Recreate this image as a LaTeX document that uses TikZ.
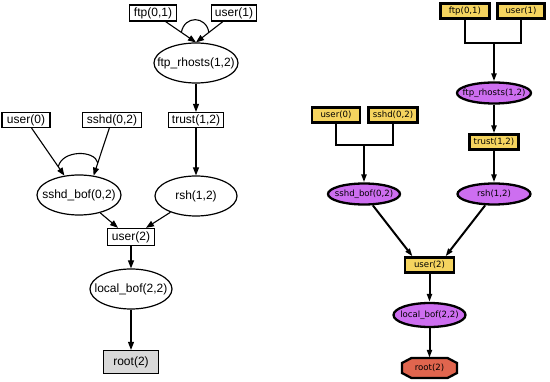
\documentclass[tikz,border=0pt]{standalone}
\usepackage{fontspec}
\setmainfont{Liberation Sans}
\newfontfamily\verd{DejaVu Sans}
\usetikzlibrary{arrows.meta,calc,shapes.geometric}
\definecolor{ryellow}{RGB}{245,212,95}
\definecolor{rpurple}{RGB}{205,110,240}
\definecolor{rred}{RGB}{224,101,78}
\definecolor{lgray}{RGB}{217,217,217}
\newcommand{\zw}[1]{\makebox[0pt]{#1}}
\begin{document}
\begin{tikzpicture}[x=1pt,y=1pt,
  Lbox/.style={draw,line width=1.3pt,inner sep=0pt,minimum height=16pt,font=\fontsize{12}{12}\selectfont},
  Lell/.style={draw,ellipse,line width=1.2pt,inner sep=0pt,minimum width=84pt,minimum height=40pt,font=\fontsize{12}{12}\selectfont},
  Lline/.style={line width=1.1pt},
  Larr/.style={line width=1.1pt,-{Triangle[length=8pt,width=6pt]}},
  Rbox/.style={draw,fill=ryellow,line width=2.3pt,inner sep=0pt,minimum height=15pt,minimum width=48pt,font=\verd\fontsize{8.6}{8.6}\selectfont},
  Rell/.style={draw,fill=rpurple,ellipse,line width=2.3pt,inner sep=0pt,minimum width=73pt,minimum height=21pt,font=\verd\fontsize{8.6}{8.6}\selectfont},
  Rline/.style={line width=2pt},
  Rarr/.style={line width=2pt,-{Triangle[length=8pt,width=5pt]}},
  Rtext/.style={inner sep=0pt,minimum width=55pt,minimum height=20pt,font=\verd\fontsize{8.6}{8.6}\selectfont}
]
\useasboundingbox (0,0) rectangle (550,-382);

% ---------------- left diagram ----------------
\node[Lbox,minimum width=47pt] (ftp01L) at (153,-13) {ftp(0,1)};
\node[Lbox,minimum width=45pt] (user1L) at (234,-13) {user(1)};
\node[Lell] (ftprhL) at (196,-63) {\zw{ftp\_rhosts(1,2)}};
\node[Lbox,minimum width=55pt,minimum height=15pt] (trustL) at (196,-120) {trust(1,2)};
\node[Lbox,minimum width=48pt,minimum height=15pt] (user0L) at (26,-120) {user(0)};
\node[Lbox,minimum width=59pt,minimum height=15pt] (sshdL) at (112,-120) {sshd(0,2)};
\node[Lell] (sshdbofL) at (79,-195) {\zw{sshd\_bof(0,2)}};
\node[Lell,minimum width=82pt] (rshL) at (196,-196) {\zw{rsh(1,2)}};
\node[Lbox,minimum width=47pt,minimum height=17pt] (user2L) at (131,-237) {user(2)};
\node[Lell,minimum width=82pt] (localL) at (131,-289) {\zw{local\_bof(2,2)}};
\node[Lbox,fill=lgray,minimum width=55pt,minimum height=23pt] (rootL) at (131,-362) {root(2)};

\draw[Larr] (ftp01L) -- (ftprhL.north);
\draw[Larr] (user1L) -- (ftprhL.north);
\coordinate (a1) at ($(ftp01L)!0.66!(ftprhL.north)$);
\coordinate (a2) at ($(user1L)!0.66!(ftprhL.north)$);
\draw[Lline] (a1) .. controls +(3,17) and +(-3,17) .. (a2);

\draw[Larr] (ftprhL) -- (trustL);
\draw[Larr] (trustL) -- (rshL);

\draw[Larr] (user0L) -- (sshdbofL.127);
\draw[Larr] (sshdL) -- (sshdbofL.53);
\coordinate (b1) at ($(user0L)!0.84!(sshdbofL.127)$);
\coordinate (b2) at ($(sshdL)!0.77!(sshdbofL.53)$);
\draw[Lline] (b1) .. controls +(4,17) and +(-3,13) .. (b2);

\draw[Larr] (sshdbofL) -- ($(user2L.north)+(-13,0)$);
\draw[Larr] (rshL) -- ($(user2L.north)+(15,0)$);
\draw[Larr] (user2L) -- (localL);
\draw[Larr] (localL) -- (rootL);

% ---------------- right diagram ----------------
\node[Rbox,minimum width=49pt] (ftp01R) at (465,-11) {ftp(0,1)};
\node[Rbox,minimum width=47pt] (user1R) at (521,-11) {user(1)};
\node[Rell,minimum width=74pt] (ftprhR) at (494,-93) {\zw{ftp\_rhosts(1,2)}};
\node[Rbox,minimum width=49pt] (trustR) at (494,-142) {trust(1,2)};
\node[Rell] (rshR) at (494,-194) {\zw{rsh(1,2)}};
\node[Rbox] (user0R) at (336,-115) {user(0)};
\node[Rbox,minimum width=49pt] (sshdR) at (393,-115) {sshd(0,2)};
\node[Rell,minimum width=72pt] (sshdbofR) at (364,-194) {\zw{sshd\_bof(0,2)}};
\node[Rbox,minimum width=49pt] (user2R) at (429.5,-265) {user(2)};
\node[Rell,minimum width=72pt,minimum height=24pt] (localR) at (429.5,-315) {\zw{local\_bof(2,2)}};
\coordinate (rootRc) at (429.5,-368);
\filldraw[fill=rred,line width=2.3pt,line join=miter]
  ($(rootRc)+(-18,10)$) -- ($(rootRc)+(18,10)$) -- ($(rootRc)+(27.5,5)$) --
  ($(rootRc)+(27.5,-5)$) -- ($(rootRc)+(18,-10)$) -- ($(rootRc)+(-18,-10)$) --
  ($(rootRc)+(-27.5,-5)$) -- ($(rootRc)+(-27.5,5)$) -- cycle;
\node[Rtext] (rootR) at (rootRc) {root(2)};

\coordinate (j1) at (494,-43);
\draw[Rline] (ftp01R) |- (j1) -| (user1R);
\draw[Rarr] (j1) -- (ftprhR);
\draw[Rarr] (ftprhR) -- (trustR);
\draw[Rarr] (trustR) -- (rshR);

\coordinate (j2) at (364,-145);
\draw[Rline] (user0R) |- (j2) -| (sshdR);
\draw[Rarr] (j2) -- (sshdbofR);

\draw[Rarr] (sshdbofR) -- ($(user2R.north)+(-17,0)$);
\draw[Rarr] (rshR) -- ($(user2R.north)+(16,0)$);
\draw[Rarr] (user2R) -- (localR);
\draw[Rarr] (localR) -- (rootR);
\end{tikzpicture}
\end{document}
